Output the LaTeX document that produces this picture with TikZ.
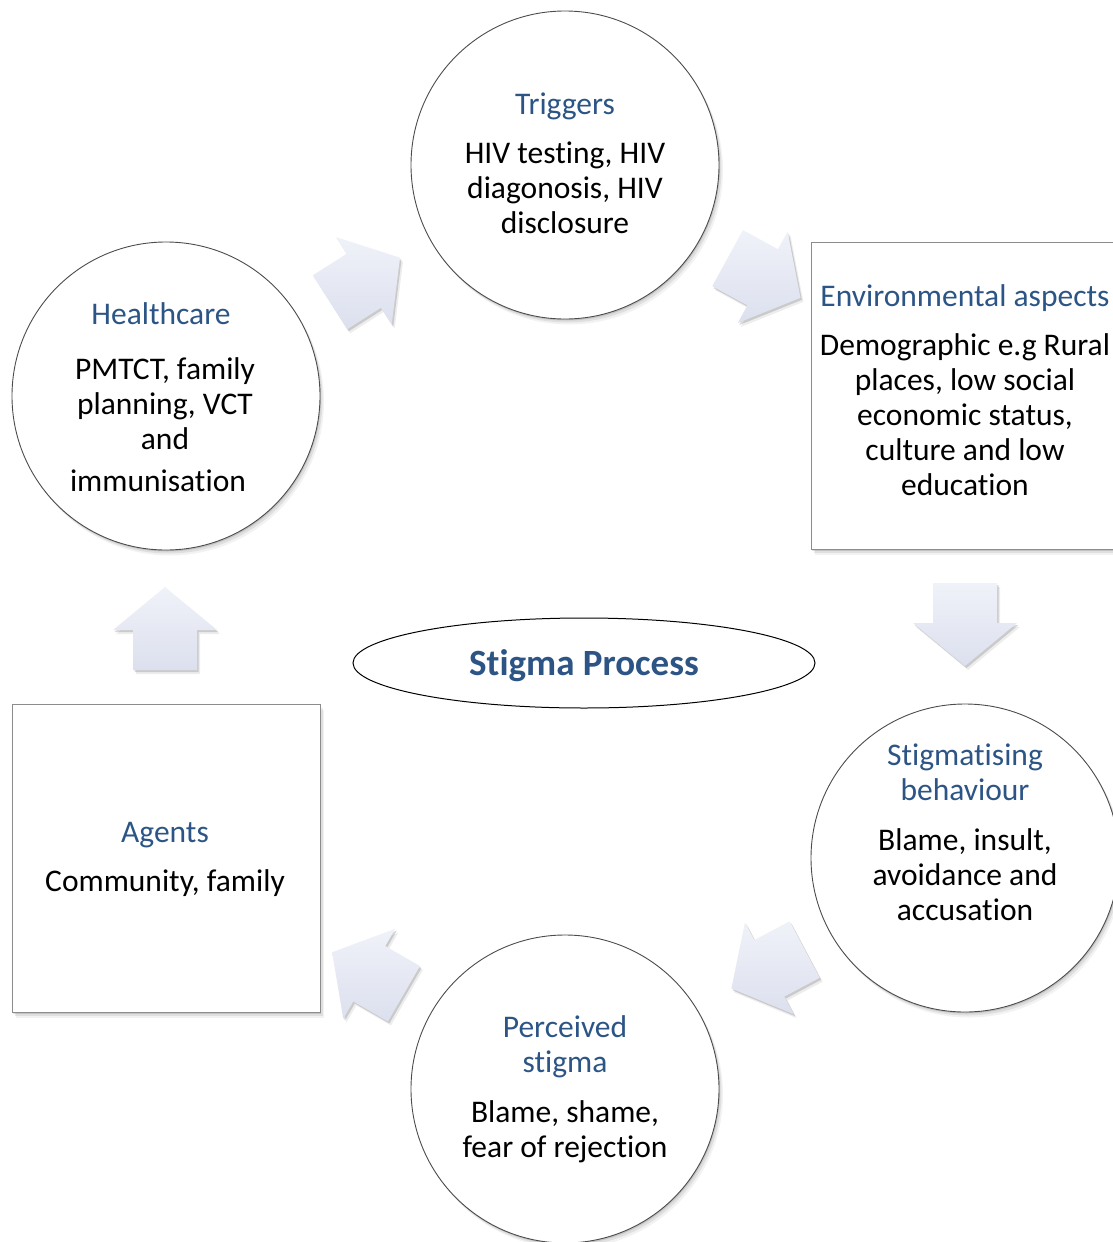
\documentclass[tikz,border=0pt]{standalone}
\usepackage{fontspec}
\setmainfont{Carlito}[Ligatures={TeX,NoCommon}]
\usetikzlibrary{shapes.geometric,shadows}
\definecolor{titleblue}{HTML}{2C5586}
\definecolor{arrowlight}{HTML}{F0F2F9}
\definecolor{arrowdark}{HTML}{DCE0EE}
\begin{document}
\begin{tikzpicture}[x=1pt,y=-1pt,
  softshadow/.style={
    drop shadow={shadow xshift=1pt,shadow yshift=-1.5pt,opacity=0.12,fill=black},
    drop shadow={shadow xshift=2.5pt,shadow yshift=-3.5pt,opacity=0.08,fill=black},
    drop shadow={shadow xshift=4pt,shadow yshift=-5.5pt,opacity=0.05,fill=black}},
  stagecircle/.style={circle,draw=black!70,line width=0.9pt,fill=white,
    minimum size=308pt,inner sep=0pt,softshadow},
  stagebox/.style={rectangle,draw=black!45,line width=0.9pt,fill=white,
    inner sep=0pt,softshadow},
  bodytext/.style={align=center,font=\fontsize{31.5}{35}\selectfont,text=black},
  blockarrow/.style={top color=arrowlight,bottom color=arrowdark,draw=none,
    drop shadow={shadow xshift=1.5pt,shadow yshift=-2pt,opacity=0.15,fill=black},
    drop shadow={shadow xshift=3pt,shadow yshift=-4pt,opacity=0.07,fill=black}},
]
\useasboundingbox (0,0) rectangle (1113,1242);
\clip (0,0) rectangle (1113,1242);

% stages of the cycle
\node[stagecircle] (trig) at (565,165) {};
\node[stagecircle] (health) at (166,396) {};
\node[stagebox,minimum width=314pt,minimum height=307pt] (env) at (968,395.5) {};
\node[stagecircle] (behav) at (965,858) {};
\node[stagecircle] (perc) at (565,1089) {};
\node[stagebox,minimum width=308pt,minimum height=308pt] (agents) at (166,858) {};

% central label
\node[ellipse,draw=black,line width=1pt,minimum width=462pt,minimum height=90pt,inner sep=0pt] (core) at (584,663) {};
\node[font=\fontsize{37}{40}\selectfont\bfseries,text=titleblue] (coretext) at (584,666) {Stigma Process};

% stage texts
\node[bodytext] (trigtext) at (565,163.5)
  {\textcolor{titleblue}{Triggers}\\[14pt]HIV testing, HIV\\diagonosis, HIV\\disclosure};
\node[bodytext] (healthtext) at (165,397)
  {\textcolor{titleblue}{Healthcare}\hspace*{8pt}\\[20pt]PMTCT, family\\planning, VCT\\and\\[7pt]immunisation\hspace*{14pt}};
\node[bodytext] (envtext) at (965,390)
  {\textcolor{titleblue}{Environmental aspects}\\[14pt]Demographic e.g Rural\\places, low social\\economic status,\\culture and low\\education};
\node[bodytext] (behavtext) at (965,832)
  {\textcolor{titleblue}{Stigmatising}\\\textcolor{titleblue}{behaviour}\\[15pt]Blame, insult,\\avoidance and\\accusation};
\node[bodytext] (perctext) at (565,1089)
  {\textcolor{titleblue}{Perceived}\\\textcolor{titleblue}{stigma}\\[15pt]Blame, shame,\\fear of rejection};
\node[bodytext] (agentstext) at (165,859)
  {\textcolor{titleblue}{Agents}\\[14pt]Community, family};

% block arrows between the stages
\foreach \name/\px/\py/\ang in {a1/365/280/32.5, a2/764/278/-28.6, a3/965/624.5/-90,
                                a4/768/969/208, a5/368/973/150, a6/165/628.5/90}{
  \begin{scope}[shift={(\px,\py)},rotate=\ang]
    \coordinate (\name) at (0,0);
    \path[blockarrow] (-41.5,-32) -- (-1.5,-32) -- (-1.5,-52) -- (41.5,0)
      -- (-1.5,52) -- (-1.5,32) -- (-41.5,32) -- cycle;
  \end{scope}
}
\end{tikzpicture}
\end{document}
